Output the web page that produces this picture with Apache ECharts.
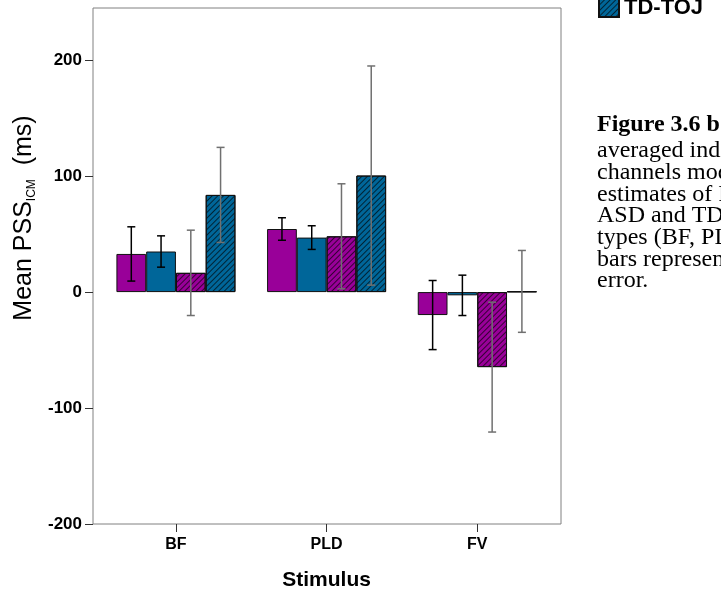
<!DOCTYPE html>
<html>
<head>
<meta charset="utf-8">
<script src="https://cdn.jsdelivr.net/npm/echarts@6/dist/echarts.min.js"></script>
<style>
html,body{margin:0;padding:0;background:#fff;}
#chart{width:721px;height:589px;}
</style>
</head>
<body>
<div id="chart"></div>
<script>
// ---- data ----
const categories = ['BF', 'PLD', 'FV'];
const seriesNames = ['ASD-SJ', 'TD-SJ', 'ASD-TOJ', 'TD-TOJ'];
const asdSJ = [32.9, 54.4, -19.8];
const tdSJ = [35.0, 47.0, -2.8];
const asdTOJ = [16.6, 48.1, -64.7];
const tdTOJ = [83.8, 100.5, 0.6];
const asdSJErr = [23.4, 9.7, 29.8];
const tdSJErr = [13.5, 10.2, 17.4];
const asdTOJErr = [36.8, 45.3, 56.0];
const tdTOJErr = [41.0, 94.5, 35.3];
const yTicks = [-200, -100, 0, 100, 200];
const captionHead = 'Figure 3.6 b  Mean PSS';
const captionBody = ['averaged individual', 'channels model PSS', 'estimates of PSS for', 'ASD and TD groups', 'types (BF, PLD, FV).', 'bars represent standard', 'error.'];

const means = [asdSJ, tdSJ, asdTOJ, tdTOJ];
const errs = [asdSJErr, tdSJErr, asdTOJErr, tdTOJErr];
const PURPLE = '#990099', BLUE = '#006699';
const colors = [PURPLE, BLUE, PURPLE, BLUE];
const GAP = 0.21;

const hatch = {
  symbol: 'rect', symbolSize: 1,
  dashArrayX: [1, 0], dashArrayY: [1, 3],
  rotation: -Math.PI / 4,
  color: 'rgba(0,0,0,0.65)'
};

const barSeries = seriesNames.map((name, i) => ({
  name: name,
  type: 'bar',
  xAxisIndex: 0, yAxisIndex: 0,
  data: means[i],
  barGap: '0%',
  barCategoryGap: (GAP * 100) + '%',
  itemStyle: Object.assign({
    color: colors[i], borderColor: '#111', borderWidth: 1
  }, i >= 2 ? { decal: hatch } : {}),
  emphasis: { disabled: true },
  z: 2
}));

const errData = [];
for (let s = 0; s < 4; s++) {
  for (let c = 0; c < categories.length; c++) {
    errData.push([c, means[s][c] - errs[s][c], means[s][c] + errs[s][c], s]);
  }
}

const errSeries = {
  type: 'custom',
  xAxisIndex: 0, yAxisIndex: 0,
  data: errData,
  encode: { x: 0, y: [1, 2] },
  z: 5,
  silent: true,
  renderItem: function (params, api) {
    const c = api.value(0), lo = api.value(1), hi = api.value(2), s = api.value(3);
    const band = api.size([1, 0])[0];
    const bw = band * (1 - GAP) / 4;
    const cx = api.coord([c, 0])[0] + (s - 1.5) * bw;
    const yLo = api.coord([c, lo])[1];
    const yHi = api.coord([c, hi])[1];
    const col = s >= 2 ? '#707070' : '#000';
    const st = { stroke: col, lineWidth: 1.5 };
    const h = 4;
    return {
      type: 'group',
      children: [
        { type: 'line', shape: { x1: cx, y1: yLo, x2: cx, y2: yHi }, style: st },
        { type: 'line', shape: { x1: cx - h, y1: yHi, x2: cx + h, y2: yHi }, style: st },
        { type: 'line', shape: { x1: cx - h, y1: yLo, x2: cx + h, y2: yLo }, style: st }
      ]
    };
  }
};

const chart = echarts.init(document.getElementById('chart'), null, { renderer: 'canvas' });
chart.setOption({
  animation: false,
  backgroundColor: '#fff',
  grid: [
    { left: 100.6, top: 8, width: 452, height: 516, show: false, containLabel: false, outerBoundsMode: 'none' },
    { left: 93, top: 8, width: 468, height: 516, show: true, borderColor: '#808080', borderWidth: 1, backgroundColor: 'transparent', containLabel: false, outerBoundsMode: 'none' }
  ],
  legend: {
    data: ['TD-TOJ'],
    left: 598, top: -3, padding: 0,
    icon: 'rect',
    itemWidth: 20, itemHeight: 18,
    textStyle: { fontFamily: 'Liberation Sans', fontWeight: 'bold', fontSize: 22, color: '#000' },
    selectedMode: false
  },
  xAxis: [
    {
      gridIndex: 0, type: 'category', data: categories,
      axisLine: { show: false, onZero: false },
      axisTick: { show: true, alignWithLabel: true, length: 8, lineStyle: { color: '#333' } },
      axisLabel: { margin: 13, fontFamily: 'Liberation Sans', fontWeight: 'bold', fontSize: 16, color: '#000' },
      name: 'Stimulus', nameLocation: 'middle', nameGap: 46,
      nameTextStyle: { fontFamily: 'Liberation Sans', fontWeight: 'bold', fontSize: 21, color: '#000' }
    },
    { gridIndex: 1, type: 'value', show: false }
  ],
  yAxis: [
    {
      gridIndex: 0, type: 'value', min: -200, max: 245, interval: 100,
      offset: 7.6,
      axisLine: { show: false, onZero: false },
      axisTick: { show: true, length: 8, customValues: yTicks, lineStyle: { color: '#333' } },
      axisLabel: { margin: 11, customValues: yTicks, fontFamily: 'Liberation Sans', fontWeight: 'bold', fontSize: 17, color: '#000' },
      splitLine: { show: false }
    },
    { gridIndex: 1, type: 'value', show: false }
  ],
  graphic: [
    {
      type: 'text', x: 24, y: 218, rotation: Math.PI / 2,
      style: {
        text: '{a|Mean PSS}{s|ICM}{a|  (ms)}',
        align: 'center', verticalAlign: 'middle',
        rich: {
          a: { fontFamily: 'Liberation Sans', fontSize: 25, color: '#222', lineHeight: 28, verticalAlign: 'middle' },
          s: { fontFamily: 'Liberation Sans', fontSize: 12, color: '#222', lineHeight: 12, verticalAlign: 'bottom' }
        }
      }
    },
    {
      type: 'text', x: 597, y: 113,
      style: { text: captionHead, fontFamily: 'Liberation Serif', fontWeight: 'bold', fontSize: 24, fill: '#000', verticalAlign: 'top' }
    },
    {
      type: 'text', x: 597, y: 140,
      style: { text: captionBody.join('\n'), fontFamily: 'Liberation Serif', fontSize: 24, lineHeight: 21.7, fill: '#000', verticalAlign: 'top' }
    }
  ],
  series: barSeries.concat([errSeries])
});
</script>
</body>
</html>
